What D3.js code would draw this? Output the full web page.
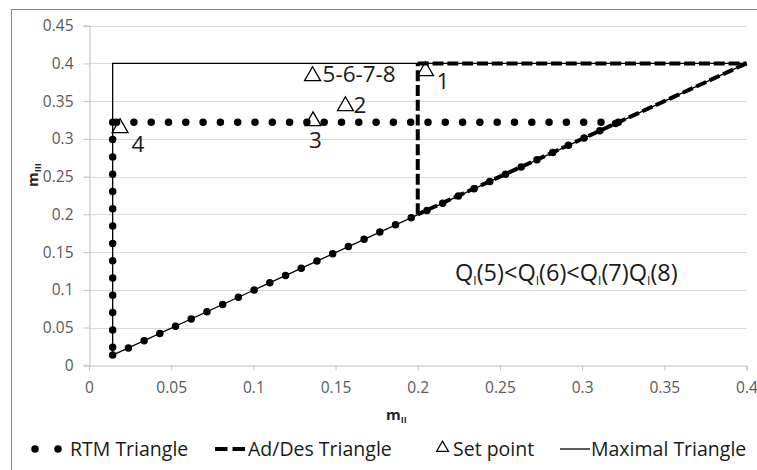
<!DOCTYPE html>
<html>
<head>
<meta charset="utf-8">
<script src="https://cdn.jsdelivr.net/npm/d3@7"></script>
<style>
  body { margin: 0; background: #fff; }
  text { font-family: "Open Sans", "DejaVu Sans", sans-serif; }
</style>
</head>
<body>
<svg id="chart" width="757" height="470"></svg>
<script>
// series (m_II on x, m_III on y)
var rtmX = [0.0144, 0.0144, 0.322, 0.0144];
var rtmY = [0.322, 0.0135, 0.322, 0.322];
var adX = [0.2, 0.2, 0.4, 0.2];
var adY = [0.2, 0.4, 0.4, 0.2];
var maxX = [0.0144, 0.0144, 0.4, 0.0144];
var maxY = [0.0135, 0.4, 0.4, 0.0135];
var setX = [0.2047, 0.156, 0.1363, 0.0189, 0.136];
var setY = [0.390, 0.3436, 0.3237, 0.3145, 0.3834];
var setLabels = ["1", "2", "3", "4", "5-6-7-8"];

var xTicks = [0, 0.05, 0.1, 0.15, 0.2, 0.25, 0.3, 0.35, 0.4];
var yTicks = [0, 0.05, 0.1, 0.15, 0.2, 0.25, 0.3, 0.35, 0.4, 0.45];
var legendNames = ["RTM Triangle", "Ad/Des Triangle", "Set point", "Maximal Triangle"];

var svg = d3.select("#chart");

// outer chart frame
svg.append("rect")
  .attr("x", 11.5).attr("y", 9.5)
  .attr("width", 748).attr("height", 470)
  .attr("fill", "none").attr("stroke", "#868686").attr("stroke-width", 1);

var x = d3.scaleLinear().domain([0, 0.4]).range([89, 746.5]);
var y = d3.scaleLinear().domain([0, 0.45]).range([365.3, 25.7]);

// gridlines
svg.append("g").selectAll("line")
  .data(yTicks.slice(1))
  .enter().append("line")
  .attr("x1", x(0)).attr("x2", x(0.4))
  .attr("y1", function(d){ return Math.round(y(d)) + 0.5; })
  .attr("y2", function(d){ return Math.round(y(d)) + 0.5; })
  .attr("stroke", "#d9d9d9").attr("stroke-width", 1);

// axes
var xAxis = svg.append("g")
  .attr("transform", "translate(0," + (Math.round(y(0)) + 0.5) + ")")
  .call(d3.axisBottom(x).tickValues(xTicks).tickSize(5).tickPadding(11)
        .tickFormat(function(d){ return d3.format("~g")(d); }));
var yAxis = svg.append("g")
  .attr("transform", "translate(" + (Math.round(x(0)) + 0.5) + ",0)")
  .call(d3.axisLeft(y).tickValues(yTicks).tickSize(6).tickPadding(10)
        .tickFormat(function(d){ return d3.format("~g")(d); }));
[xAxis, yAxis].forEach(function(a){
  a.select(".domain").attr("stroke", "#bfbfbf");
  a.selectAll(".tick line").attr("stroke", "#bfbfbf");
  a.selectAll(".tick text")
    .attr("fill", "#595959")
    .style("font-size", "15.5px")
    .style("font-family", "'Open Sans', sans-serif");
});

// axis titles
var xt = svg.append("text")
  .attr("x", 386).attr("y", 420)
  .attr("fill", "#262626").style("font-size", "15px").style("font-weight", "bold");
xt.append("tspan").text("m");
xt.append("tspan").attr("dy", 3).style("font-size", "9px").text("II");

var yt = svg.append("text")
  .attr("transform", "translate(38,187) rotate(-90)")
  .attr("fill", "#262626").style("font-size", "15px").style("font-weight", "bold");
yt.append("tspan").text("m");
yt.append("tspan").attr("dy", 3).style("font-size", "9px").text("III");

// helpers to draw each series as separate segments (dash pattern restarts at corners)
function segments(xs, ys) {
  var pts = xs.map(function(v, i){ return [x(v), y(ys[i])]; });
  return d3.pairs(pts);
}
var line = d3.line();

// RTM triangle - big round dots
svg.append("g").selectAll("path")
  .data(segments(rtmX, rtmY))
  .enter().append("path")
  .attr("d", line)
  .attr("fill", "none").attr("stroke", "#000")
  .attr("stroke-width", 7.5).attr("stroke-linecap", "round")
  .attr("stroke-dasharray", "0,17.3");

// Maximal triangle - thin solid
svg.append("path")
  .attr("d", line(maxX.map(function(v, i){ return [x(v), y(maxY[i])]; })))
  .attr("fill", "none").attr("stroke", "#000").attr("stroke-width", 1.3);

// Ad/Des triangle - heavy dashes
svg.append("g").selectAll("path")
  .data(segments(adX, adY))
  .enter().append("path")
  .attr("d", line)
  .attr("fill", "none").attr("stroke", "#000")
  .attr("stroke-width", 4)
  .attr("stroke-dasharray", "11,3.8");

// set points
var tri = d3.symbol().type(d3.symbolTriangle).size(110);
svg.append("g").selectAll("path")
  .data(setX)
  .enter().append("path")
  .attr("d", tri)
  .attr("transform", function(d, i){ return "translate(" + x(d) + "," + y(setY[i]) + ")"; })
  .attr("fill", "none").attr("stroke", "#000").attr("stroke-width", 1.3);

// label offsets from each marker
var labelOff = {"1": [11, 18], "2": [8, 7], "3": [-4, 27], "4": [11.5, 24], "5-6-7-8": [10, 6.5]};
svg.append("g").selectAll("text")
  .data(setLabels)
  .enter().append("text")
  .attr("x", function(d, i){ return x(setX[i]) + labelOff[d][0]; })
  .attr("y", function(d, i){ return y(setY[i]) + labelOff[d][1]; })
  .attr("fill", "#1a1a1a").style("font-size", "22.5px")
  .text(function(d){ return d; });

// annotation
var q = svg.append("text")
  .attr("x", 455).attr("y", 281)
  .attr("fill", "#1a1a1a").style("font-size", "23.5px");
["5", "6", "7", "8"].forEach(function(n, i){
  q.append("tspan").text("Q");
  q.append("tspan").attr("dy", 4).style("font-size", "12px").text("I");
  q.append("tspan").attr("dy", -4).text("(" + n + ")" + (i < 2 ? "<" : ""));
});

// legend
var ly = 449;
var lg = svg.append("g");
lg.append("line").attr("x1", 35).attr("x2", 58.5).attr("y1", ly).attr("y2", ly)
  .attr("stroke", "#000").attr("stroke-width", 7.5).attr("stroke-linecap", "round")
  .attr("stroke-dasharray", "0,23");
lg.append("line").attr("x1", 215).attr("x2", 247).attr("y1", ly).attr("y2", ly)
  .attr("stroke", "#000").attr("stroke-width", 4).attr("stroke-dasharray", "12.5,5");
lg.append("path").attr("d", d3.symbol().type(d3.symbolTriangle).size(62))
  .attr("transform", "translate(442.5," + (ly - 1) + ")")
  .attr("fill", "none").attr("stroke", "#000").attr("stroke-width", 1.2);
lg.append("line").attr("x1", 560).attr("x2", 590).attr("y1", ly).attr("y2", ly)
  .attr("stroke", "#000").attr("stroke-width", 1.3);
var legendX = [70, 248, 453, 591];
lg.selectAll("text")
  .data(legendNames)
  .enter().append("text")
  .attr("x", function(d, i){ return legendX[i]; })
  .attr("y", ly + 7)
  .attr("fill", "#1a1a1a").style("font-size", "19.5px")
  .text(function(d){ return d; });
</script>
</body>
</html>
